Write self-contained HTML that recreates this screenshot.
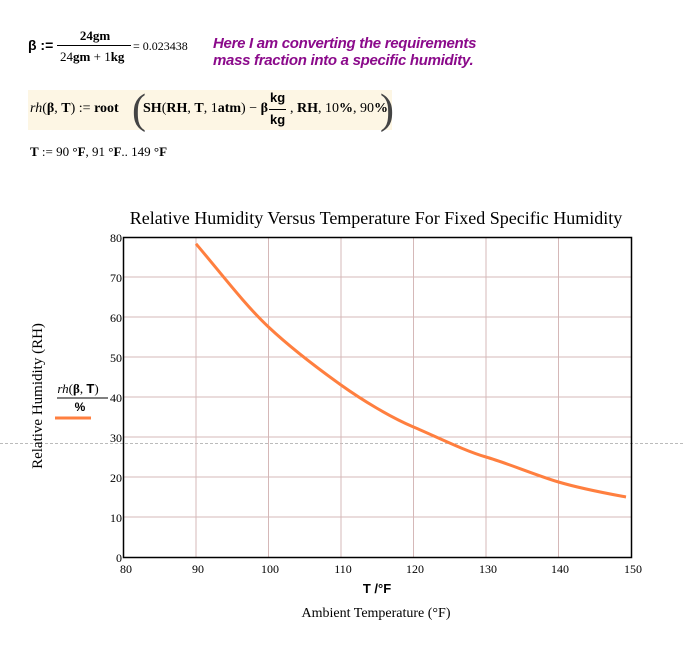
<!DOCTYPE html>
<html><head><meta charset="utf-8"><style>
body{margin:0;width:683px;height:651px;background:#fff;position:relative;overflow:hidden;font-family:"Liberation Serif",serif}
.a{position:absolute;white-space:nowrap}
.b{font-family:"Liberation Sans",sans-serif;font-weight:bold}
</style></head><body>
<div class="a b" style="left:28px;top:37px;font-size:14px">β :=</div>
<div class="a" style="left:60px;top:28px;font-size:13px;width:70px;text-align:center"><b>24gm</b></div>
<div class="a" style="left:57px;top:45px;width:74px;border-top:1px solid #000"></div>
<div class="a" style="left:60px;top:49px;font-size:13px"><span>24</span><b>gm</b> + <span>1</span><b>kg</b></div>
<div class="a" style="left:133px;top:39px;font-size:12px">= 0.023438</div>
<div class="a" style="left:213px;top:35px;font-size:15px;color:#8b0a8b;font-style:italic;font-weight:bold;font-family:'Liberation Sans',sans-serif;line-height:17px;letter-spacing:-0.3px">Here I am converting the requirements<br>mass fraction into a specific humidity.</div>
<div class="a" style="left:28px;top:90px;width:364px;height:40px;background:#fdf6e4"></div>
<div class="a" style="left:30px;top:101px;font-size:14px"><i>rh</i>(<b>β</b>, <b>T</b>) := <b>root</b></div>
<div class="a" style="left:132px;top:86px;font-size:42px;font-weight:100;color:#444">(</div>
<div class="a" style="left:143px;top:101px;font-size:14px"><b>SH</b>(<b>RH</b>, <b>T</b>, 1<b>atm</b>) − <b>β</b></div>
<div class="a b" style="left:270px;top:90px;font-size:13px">kg</div>
<div class="a" style="left:269px;top:109px;width:17px;border-top:1px solid #000"></div>
<div class="a b" style="left:270px;top:112px;font-size:13px">kg</div>
<div class="a" style="left:290px;top:101px;font-size:14px">, <b>RH</b>, 10<b>%</b>, 90<b>%</b></div>
<div class="a" style="left:380px;top:86px;font-size:42px;color:#444">)</div>
<div class="a" style="left:30px;top:144px;font-size:13px"><b>T</b> := 90 <b>°F</b>, 91 <b>°F</b>.. 149 <b>°F</b></div>
<div class="a" style="left:0;top:443px;width:683px;border-top:1px dashed #bbb"></div>
<svg class="a" style="left:0;top:0" width="683" height="651">
<g stroke="#d5b8b8" stroke-width="1">
<line x1="196" y1="237" x2="196" y2="557"/><line x1="268.5" y1="237" x2="268.5" y2="557"/><line x1="341" y1="237" x2="341" y2="557"/><line x1="413.5" y1="237" x2="413.5" y2="557"/><line x1="486" y1="237" x2="486" y2="557"/><line x1="558.5" y1="237" x2="558.5" y2="557"/>
<line x1="123" y1="277" x2="632" y2="277"/><line x1="123" y1="317" x2="632" y2="317"/><line x1="123" y1="357" x2="632" y2="357"/><line x1="123" y1="397" x2="632" y2="397"/><line x1="123" y1="437" x2="632" y2="437"/><line x1="123" y1="477" x2="632" y2="477"/><line x1="123" y1="517" x2="632" y2="517"/>
</g>
<rect x="123.5" y="237.5" width="508" height="320" fill="none" stroke="#000" stroke-width="1.5"/>
<path fill="none" stroke="#ff7f3f" stroke-width="3" d="M196,243.8 C220,272 245,305 268.5,327 S320,370 341,385 S390,417 413.5,427 S465,451 486,457 S535,475 558.5,482 S610,494 626,497"/>
<g font-size="12" font-family="Liberation Serif,serif" text-anchor="end">
<text x="122" y="242">80</text><text x="122" y="282">70</text><text x="122" y="322">60</text><text x="122" y="362">50</text><text x="122" y="402">40</text><text x="122" y="442">30</text><text x="122" y="482">20</text><text x="122" y="522">10</text><text x="122" y="562">0</text>
</g>
<g font-size="12" font-family="Liberation Serif,serif" text-anchor="middle">
<text x="126" y="573">80</text><text x="198" y="573">90</text><text x="270" y="573">100</text><text x="343" y="573">110</text><text x="415" y="573">120</text><text x="488" y="573">130</text><text x="560" y="573">140</text><text x="633" y="573">150</text>
</g>
<text x="376" y="224" font-size="18" text-anchor="middle">Relative Humidity Versus Temperature For Fixed Specific Humidity</text>
<text x="376" y="617" font-size="14" text-anchor="middle">Ambient Temperature (°F)</text>
<text x="377" y="593" font-size="13" text-anchor="middle" font-family="Liberation Sans,sans-serif" font-weight="bold">T /°F</text>
<text transform="translate(42,396) rotate(-90)" font-size="15" text-anchor="middle">Relative Humidity (RH)</text>
<text x="78" y="393" font-size="13" text-anchor="middle"><tspan font-style="italic">rh</tspan>(<tspan font-weight="bold">β</tspan>, <tspan font-weight="bold" font-family="Liberation Sans,sans-serif">T</tspan>)</text>
<line x1="57" y1="398" x2="108" y2="398" stroke="#000"/>
<text x="80" y="411" font-size="12" text-anchor="middle" font-weight="bold" font-family="Liberation Sans,sans-serif">%</text>
<line x1="55" y1="418" x2="91" y2="418" stroke="#ff7f3f" stroke-width="3"/>
</svg>
</body></html>
